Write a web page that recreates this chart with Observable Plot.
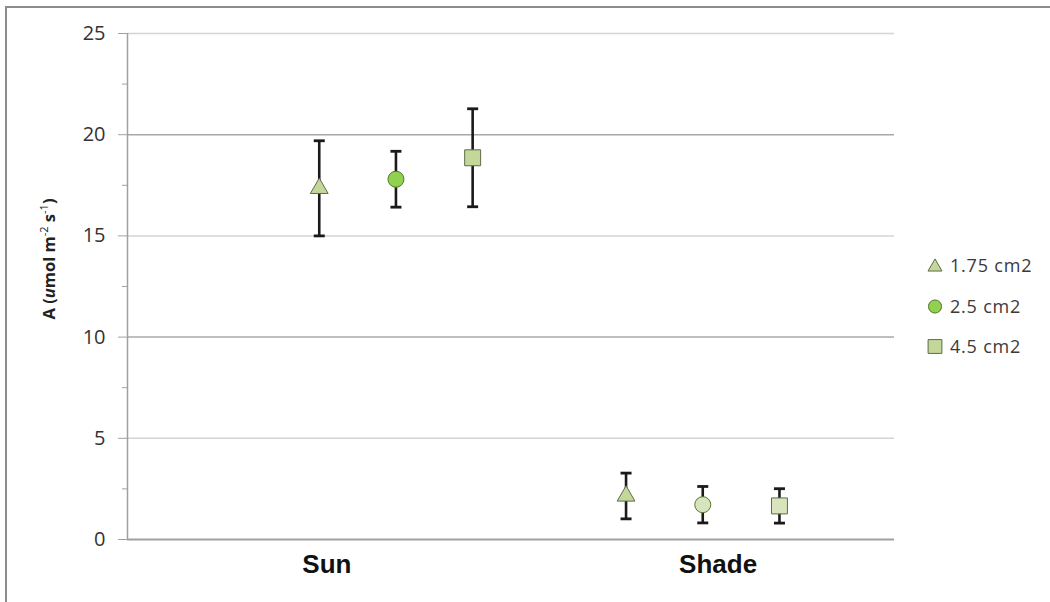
<!DOCTYPE html>
<html>
<head>
<meta charset="utf-8">
<script src="https://cdn.jsdelivr.net/npm/d3@7"></script>
<script src="https://cdn.jsdelivr.net/npm/@observablehq/plot@0.6"></script>
<style>
  body { margin: 0; background: #fff; }
  #wrap { position: relative; width: 1050px; height: 602px; overflow: hidden; background: #fff; }
  #border { position: absolute; left: 5px; top: 6px; right: -10px; bottom: -10px;
            border-left: 2px solid #8c8c8c; border-top: 2px solid #8c8c8c; pointer-events: none; }
  #legend { position: absolute; left: 927px; top: 245px; font-family: "Open Sans", sans-serif;
            font-size: 18px; color: #3a3a3a; letter-spacing: 0.8px; }
  #legend .item { height: 40.5px; display: flex; align-items: center; white-space: nowrap; }
  #legend svg { margin-right: 7px; }
</style>
</head>
<body>
<div id="wrap"><div id="border"></div><div id="legend"></div></div>
<script>
// ---- data ----
const categories = ["Sun", "Shade"];
const series = ["1.75 cm2", "2.5 cm2", "4.5 cm2"];
const meanSun = [17.35, 17.8, 18.86];
const meanShade = [2.15, 1.72, 1.66];
const errSun = [2.35, 1.38, 2.42];
const errShade = [1.13, 0.9, 0.85];
const groupStart = [2.5, 6.5];   // slot of the first series in each category
const labelSlot = [2.6, 7.7];    // slot of each category label
const yTicks = [0, 5, 10, 15, 20, 25];
const yMinor = [2.5, 7.5, 12.5, 17.5, 22.5];

// ---- styles ----
const fills = {
  Sun:   ["#c4d79b", "#92d050", "#c4d79b"],
  Shade: ["#c4d79b", "#d7e4bd", "#d7e4bd"]
};
const legendFills = ["#c4d79b", "#92d050", "#c4d79b"];
const symbols = ["triangle", "circle", "square"];
const radii = [6.6, 8, 9];
const outline = ["#5f6b48", "#4f7a28", "#5f6b48"];

// ---- table ----
const means = [meanSun, meanShade];
const errs = [errSun, errShade];
const rows = [];
categories.forEach((c, ci) => {
  series.forEach((s, si) => {
    rows.push({
      category: c, series: s, si,
      slot: groupStart[ci] + si,
      mean: means[ci][si],
      lo: means[ci][si] - errs[ci][si],
      hi: means[ci][si] + errs[ci][si],
      fill: fills[c][si]
    });
  });
});
const labels = categories.map((c, i) => ({category: c, slot: labelSlot[i]}));

const cap = { draw(ctx) { ctx.moveTo(-5.5, 0); ctx.lineTo(5.5, 0); } };

const chart = Plot.plot({
  width: 1050,
  height: 602,
  marginLeft: 127,
  marginRight: 156,
  marginTop: 33,
  marginBottom: 63,
  style: { fontFamily: "Open Sans, sans-serif", fontSize: "17px", background: "transparent" },
  x: { domain: [0, 10], axis: null },
  y: { domain: [0, 25], axis: null },
  marks: [
    Plot.ruleY([5, 15, 25], { stroke: "#d4d4d4", strokeWidth: 1.5 }),
    Plot.ruleY([10, 20], { stroke: "#a8a8a8", strokeWidth: 1.5 }),
    Plot.ruleY([0], { stroke: "#a0a0a0", strokeWidth: 2 }),
    Plot.ruleX([0], { stroke: "#a0a0a0", strokeWidth: 1.5 }),
    Plot.axisY({ ticks: yTicks, tickSize: 9, tickPadding: 13, stroke: "#a0a0a0",
                 fill: "#333", label: null, tickFormat: d => d }),
    Plot.axisY({ ticks: yMinor, tickSize: 5, stroke: "#a0a0a0", text: null, label: null }),
    Plot.ruleX(rows, { x: "slot", y1: "lo", y2: "hi", stroke: "#1a1a1a", strokeWidth: 2.6 }),
    Plot.dot(rows, { x: "slot", y: "lo", symbol: cap, fill: "none", stroke: "#1a1a1a", strokeWidth: 2.8 }),
    Plot.dot(rows, { x: "slot", y: "hi", symbol: cap, fill: "none", stroke: "#1a1a1a", strokeWidth: 2.8 }),
    ...series.map((s, si) => Plot.dot(rows.filter(d => d.si === si), {
      x: "slot", y: "mean", symbol: symbols[si], r: radii[si],
      fill: "fill", stroke: outline[si], strokeWidth: 1
    })),
    Plot.text(labels, { x: "slot", text: "category", frameAnchor: "bottom", dy: 25,
                        lineAnchor: "middle", fontFamily: "Liberation Sans, Arial, sans-serif",
                        fontWeight: "bold", fontSize: 26, fill: "#111" })
  ]
});

const svg = d3.select(chart);
// larger y tick labels
svg.selectAll('g[aria-label="y-axis tick label"]')
  .style("font-size", "20px");
svg.selectAll('g[aria-label="y-axis tick label"] text')
  .style("font-size", "20px");

// y axis title with superscripts
const t = svg.append("text")
  .attr("transform", "translate(55,259) rotate(-90)")
  .attr("text-anchor", "middle")
  .style("font-family", "Open Sans, sans-serif")
  .style("font-weight", "bold")
  .style("font-size", "16.5px")
  .style("fill", "#222");
t.append("tspan").text("A (");
t.append("tspan").style("font-style", "italic").text("u");
t.append("tspan").text("mol m");
t.append("tspan").attr("dy", -7).style("font-size", "11px").style("font-weight", "normal").text("-2");
t.append("tspan").attr("dy", 7).text(" s");
t.append("tspan").attr("dy", -7).style("font-size", "11px").style("font-weight", "normal").text("-1");
t.append("tspan").attr("dy", 7).text(")");

const wrap = document.getElementById("wrap");
wrap.insertBefore(chart, wrap.firstChild);

// legend
const legend = d3.select("#legend");
series.forEach((s, si) => {
  const item = legend.append("div").attr("class", "item");
  const sv = item.append("svg").attr("width", 16).attr("height", 16);
  const sym = { triangle: d3.symbolTriangle, circle: d3.symbolCircle, square: d3.symbolSquare }[symbols[si]];
  const size = { triangle: 85, circle: 135, square: 190 }[symbols[si]];
  sv.append("path")
    .attr("transform", symbols[si] === "triangle" ? "translate(8,10)" : "translate(8,8.5)")
    .attr("d", d3.symbol(sym, size)())
    .attr("fill", legendFills[si])
    .attr("stroke", outline[si])
    .attr("stroke-width", 1);
  item.append("span").text(s);
});
</script>
</body>
</html>
